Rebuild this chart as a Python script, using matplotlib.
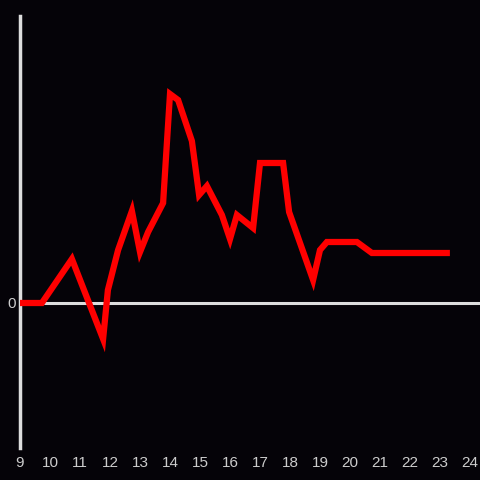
import matplotlib
matplotlib.use("Agg")
import matplotlib.pyplot as plt

# hours of the day and the value at each point
hours = [9.0, 9.73, 10.73, 11.77, 11.93, 12.27, 12.73, 13.0, 13.27, 13.77,
         14.0, 14.27, 14.73, 14.97, 15.23, 15.73, 16.0, 16.23, 16.77, 17.0,
         17.77, 17.97, 18.77, 19.0, 19.23, 20.23, 20.73, 23.33]
values = [0.0, 0.0, 4.4, -3.6, 1.3, 5.3, 9.2, 5.1, 7.1, 10.0,
          20.9, 20.3, 16.2, 10.8, 11.7, 8.8, 6.4, 8.8, 7.5, 14.0,
          14.0, 9.1, 2.3, 5.3, 6.1, 6.1, 5.0, 5.0]
xticks = list(range(9, 25))

bg = "#050308"
axis_col = "#dddddd"
text_col = "#cccccc"

plt.rcParams["font.family"] = ["Liberation Sans", "DejaVu Sans"]
fig = plt.figure(figsize=(4.8, 4.8), dpi=100, facecolor=bg)
ax = fig.add_axes([20 / 480, 32 / 480, 460 / 480, 432 / 480], facecolor=bg)

ax.plot(hours, values, color="#ff0000", linewidth=4.5,
        solid_joinstyle="miter", solid_capstyle="butt", zorder=3)
ax.axhline(0, color=axis_col, linewidth=2.2, zorder=2)

ax.set_xlim(9, 9 + 460 / 30)
ax.set_ylim(-14.5, 28.7)

for side in ["top", "right", "bottom"]:
    ax.spines[side].set_visible(False)
ax.spines["left"].set_color(axis_col)
ax.spines["left"].set_linewidth(2.5)

ax.set_xticks(xticks)
ax.set_xticklabels([str(t) for t in xticks])
ax.set_yticks([0])
ax.set_yticklabels(["0"])
ax.tick_params(axis="x", length=0, pad=6, colors=text_col, labelsize=11)
ax.tick_params(axis="y", length=0, pad=3, colors=text_col, labelsize=11)

fig.savefig("out.png", dpi=100, facecolor=bg)
